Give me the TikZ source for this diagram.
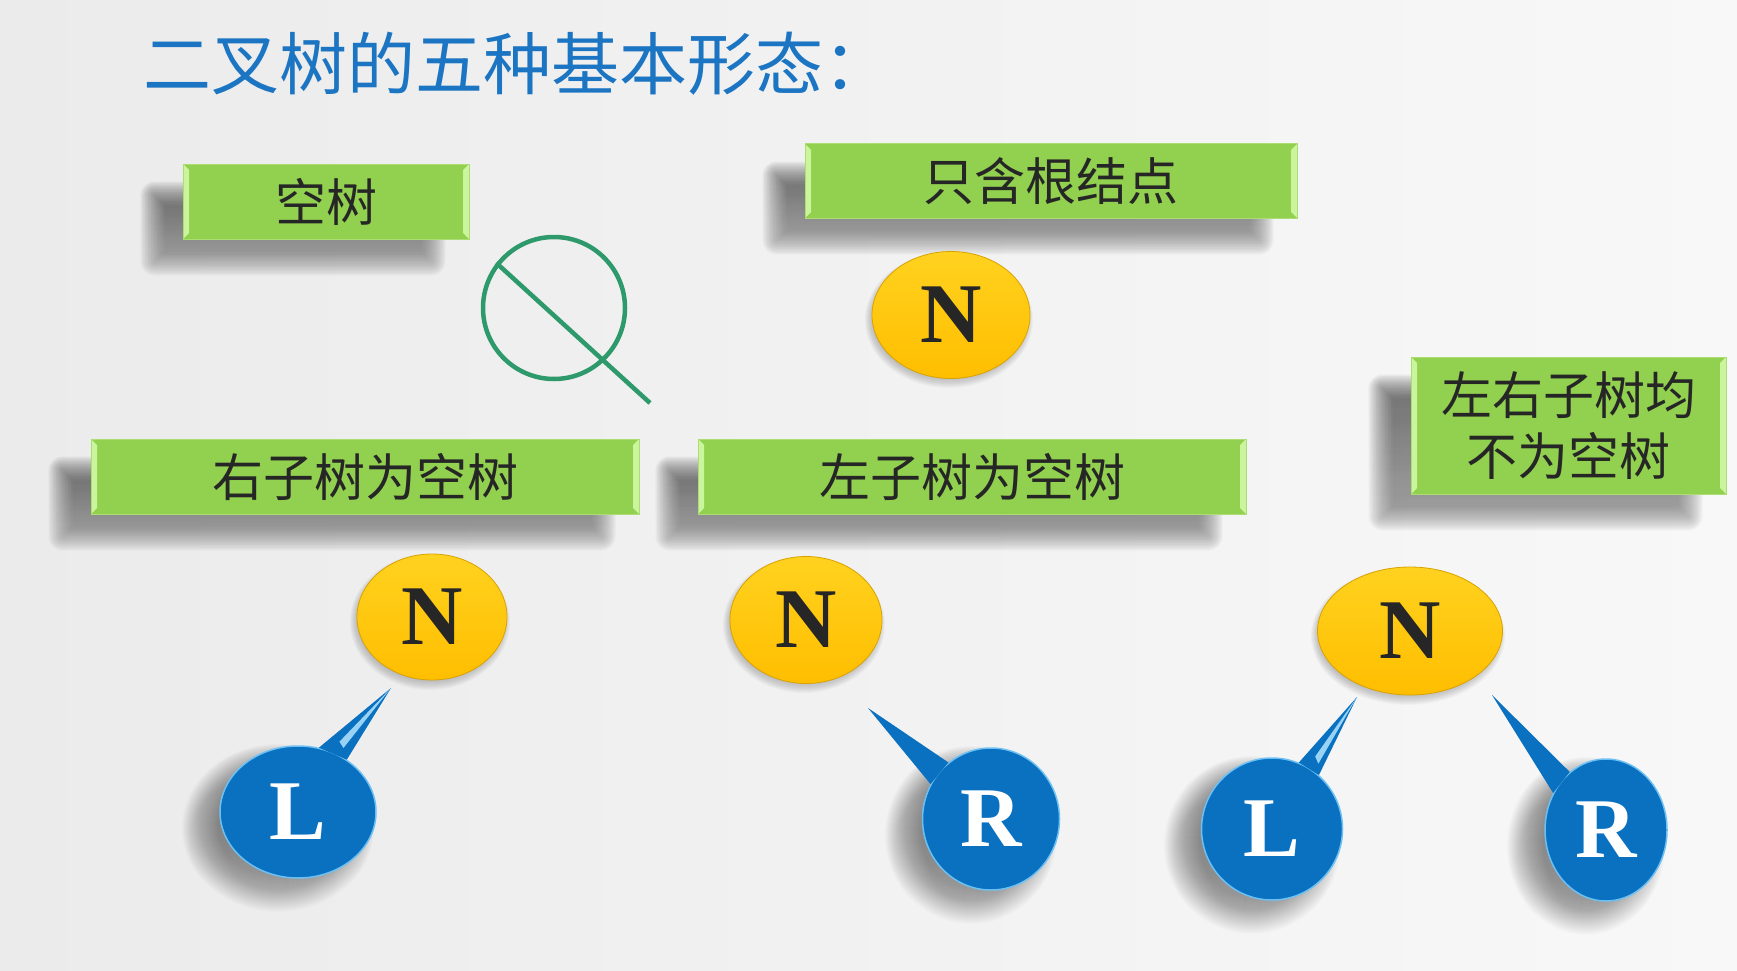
\documentclass[tikz,border=0pt]{standalone}
\usepackage{fontspec}
\setmainfont{Liberation Serif}
\newfontfamily\cjk{Noto Sans CJK SC}
\usetikzlibrary{shapes.geometric,calc}

\definecolor{bgA}{HTML}{EBEBEB}
\definecolor{bgB}{HTML}{F8F8F8}
\definecolor{titleblue}{HTML}{1B75C2}
\definecolor{boxgreen}{HTML}{92D050}
\definecolor{boxlight}{HTML}{CBF59C}
\definecolor{boxedge}{HTML}{ABDD72}
\definecolor{txtdark}{HTML}{262626}
\definecolor{ringgreen}{HTML}{2E9A6C}
\definecolor{yelTop}{HTML}{FFD21F}
\definecolor{yelBot}{HTML}{FFBE00}
\definecolor{yelEdge}{HTML}{D8A200}
\definecolor{nodeblue}{HTML}{0A70C0}
\definecolor{rimblue}{HTML}{6CC0F2}
\definecolor{shade}{HTML}{303030}

\pgfdeclarelayer{back}
\pgfdeclarelayer{shadows}
\pgfsetlayers{back,shadows,main}

% soft shadow under a rectangular node: node, x shift, y shift (canvas pt)
\newcommand\boxshade[3]{%
  \foreach \d [evaluate=\d as \r using {max(\d,0)+2}] in {12,10.5,...,-12}{%
    \fill[shade, fill opacity=0.03, rounded corners=\r pt]
      ([xshift={(#2)-(\d)*1pt}, yshift={(#3)-(\d)*1pt}]#1.south west)
      rectangle ([xshift={(#2)+(\d)*1pt-6pt}, yshift={(#3)+(\d)*1pt-6pt}]#1.north east);
  }}
% soft shadow under an elliptic node: node, x shift, y shift, x radius, y radius, spread, opacity
\newcommand\ballshade[7]{%
  \foreach \d in {#6,...,-#6}{%
    \fill[shade, fill opacity=#7]
      ([xshift=#2, yshift=#3]#1.center) ellipse [x radius={#4+\d}, y radius={#5+\d}];
  }}

\tikzset{
  title/.style={inner sep=0pt, text=titleblue, font=\cjk\fontsize{68}{80}\selectfont},
  bevel/.style={path picture={
    \fill[boxlight] (path picture bounding box.north west)
      -- ([xshift=6pt,yshift=-6pt]path picture bounding box.north west)
      -- ([xshift=6pt,yshift=6pt]path picture bounding box.south west)
      -- (path picture bounding box.south west) -- cycle;
    \fill[boxlight] (path picture bounding box.north east)
      -- ([xshift=-6pt,yshift=-6pt]path picture bounding box.north east)
      -- ([xshift=-6pt,yshift=6pt]path picture bounding box.south east)
      -- (path picture bounding box.south east) -- cycle;
  }},
  labelbox/.style={rectangle, inner sep=0pt, fill=boxgreen, draw=boxedge,
    line width=1pt, bevel, text=txtdark, align=center,
    font=\cjk\fontsize{51}{61}\selectfont},
  nball/.style={ellipse, inner sep=0pt, top color=yelTop, bottom color=yelBot,
    draw=yelEdge, line width=0.8pt, text=txtdark,
    font=\bfseries\fontsize{85}{85}\selectfont},
  bball/.style={ellipse, inner sep=0pt, fill=nodeblue, draw=rimblue,
    line width=1.5pt, text=white,
    font=\bfseries\fontsize{85}{85}\selectfont},
  tail/.style={fill=nodeblue},
  shine/.style={fill=rimblue!70},
}

\begin{document}
\begin{tikzpicture}[x=1pt,y=-1pt]
\useasboundingbox (0,0) rectangle (1737,971);
\begin{pgfonlayer}{back}
\fill[left color=bgA, right color=bgB] (0,0) rectangle (1737,971);
\end{pgfonlayer}

% heading
\node[title, anchor=base west] (title) at (143,90) {二叉树的五种基本形态：};

% the five captions
\node[labelbox, minimum width=286pt, minimum height=75pt] (capEmpty) at (326,201.5) {空树};
\node[labelbox, minimum width=492pt, minimum height=74pt] (capRoot) at (1051,181) {只含根结点};
\node[labelbox, minimum width=548pt, minimum height=75pt] (capNoRight) at (365,476.5) {右子树为空树};
\node[labelbox, minimum width=548pt, minimum height=75pt] (capNoLeft) at (972,476.5) {左子树为空树};
\node[labelbox, minimum width=315pt, minimum height=137pt] (capBoth) at (1568.5,425.5) {左右子树均\\不为空树};

% empty tree symbol
\node[circle, draw=ringgreen, line width=4.5pt, minimum size=142pt, inner sep=0pt] (ring) at (554,308) {};
\coordinate (ringEnd) at (650,403);
\draw[ringgreen, line width=4.5pt] (ring.142) -- (ringEnd);

% root only
\node[nball, minimum width=158pt, minimum height=127pt] (n0) at (951,315) {N};

% tail tips
\coordinate (tipL1) at (391,688);
\coordinate (tipR2) at (868,708);
\coordinate (tipL3) at (1357,697);
\coordinate (tipR4) at (1492,695);

% roots of the three trees
\node[nball, minimum width=150pt, minimum height=126pt] (n1) at (432,617) {N};
\node[nball, minimum width=152pt, minimum height=127pt] (n2) at (806,620) {N};
\node[nball, minimum width=185pt, minimum height=128pt] (n3) at (1410,631) {N};

% children
\node[bball, minimum width=156pt, minimum height=132pt] (L1) at (298,812) {L};
\node[bball, minimum width=137pt, minimum height=142pt] (R2) at (991,819) {R};
\node[bball, minimum width=141pt, minimum height=142pt] (L3) at (1272,829) {L};
\node[bball, minimum width=122pt, minimum height=142pt] (R4) at (1606,830) {R};

% pointer tails from children towards their root
\fill[tail] (L1.72) -- (tipL1) -- (L1.47) -- cycle;
\fill[shine] ($(L1.62)!0.15!(tipL1)$) -- (tipL1) -- ($(L1.55)!0.1!(tipL1)$) -- cycle;
\fill[tail] (R2.127) -- (tipR2) -- (R2.150) -- cycle;
\fill[tail] (L3.68) -- (tipL3) -- (L3.49) -- cycle;
\fill[shine] ($(L3.60)!0.15!(tipL3)$) -- (tipL3) -- ($(L3.54)!0.1!(tipL3)$) -- cycle;
\fill[tail] (R4.122) -- (tipR4) -- (R4.145) -- cycle;

% soft shadows
\begin{pgfonlayer}{shadows}
  \boxshade{capEmpty}{-30pt}{-24pt}
  \boxshade{capRoot}{-30pt}{-24pt}
  \boxshade{capNoRight}{-30pt}{-24pt}
  \boxshade{capNoLeft}{-30pt}{-24pt}
  \boxshade{capBoth}{-30pt}{-24pt}
  \ballshade{n0}{-2pt}{-5pt}{79}{63}{5}{0.025}
  \ballshade{n1}{-2pt}{-5pt}{75}{63}{5}{0.025}
  \ballshade{n2}{-2pt}{-5pt}{76}{63}{5}{0.025}
  \ballshade{n3}{-2pt}{-5pt}{92}{64}{5}{0.025}
  \ballshade{L1}{-20pt}{-16pt}{78}{66}{18}{0.012}
  \ballshade{R2}{-20pt}{-16pt}{68}{71}{18}{0.012}
  \ballshade{L3}{-20pt}{-16pt}{70}{71}{18}{0.012}
  \ballshade{R4}{-20pt}{-16pt}{61}{71}{18}{0.012}
\end{pgfonlayer}
\end{tikzpicture}
\end{document}
